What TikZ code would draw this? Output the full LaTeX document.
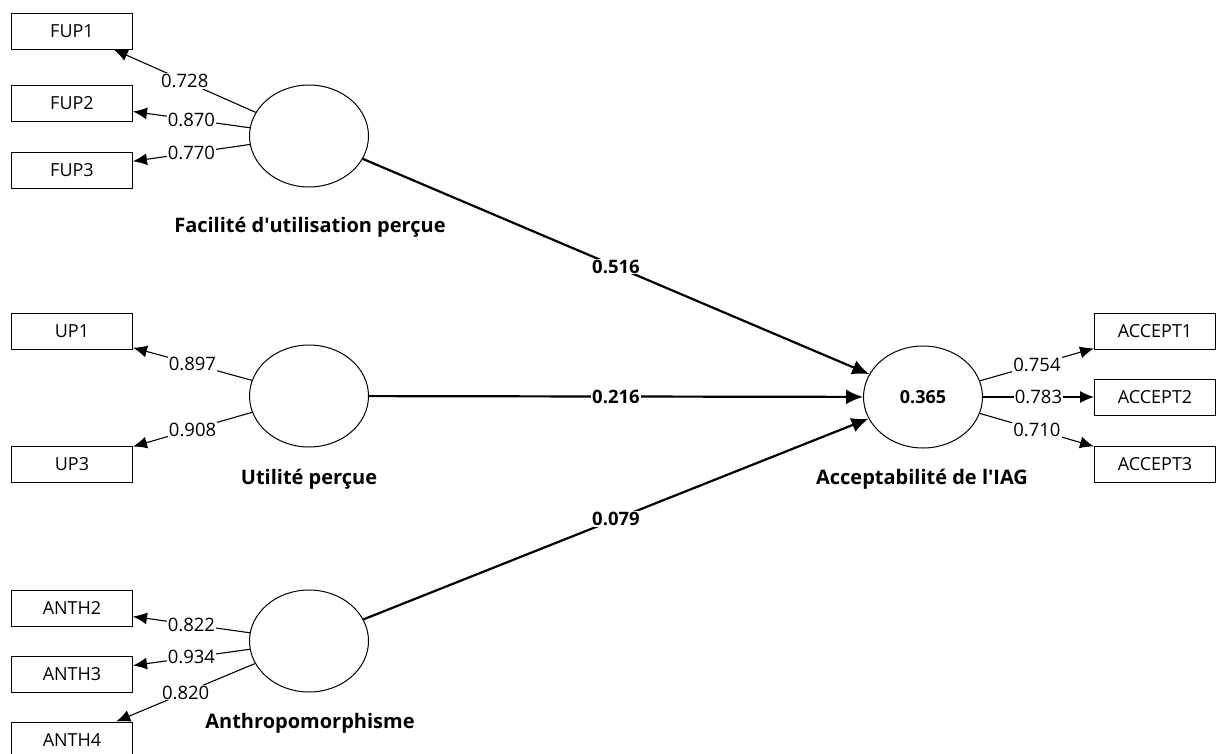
\documentclass[tikz,border=0pt]{standalone}
\usepackage{fontspec}
\setmainfont{Open Sans}
\usetikzlibrary{shapes.geometric, arrows.meta, positioning}

\begin{document}
\begin{tikzpicture}[x=1pt, y=-1pt,
  ind/.style={rectangle, draw, line width=1pt, minimum width=121pt,
    minimum height=36pt, inner sep=0pt, font=\fontsize{18}{21}\selectfont},
  lat/.style={ellipse, draw, line width=1pt, minimum width=119pt,
    minimum height=102pt, inner sep=0pt,
    font=\fontsize{18}{21}\selectfont\bfseries},
  nom/.style={font=\fontsize{20}{24}\selectfont\bfseries},
  load/.style={line width=1.1pt, -{Latex[length=14pt,width=12pt]}},
  struct/.style={line width=2.2pt, -{Latex[length=17pt,width=15pt]}},
  val/.style={fill=white, inner sep=1pt, font=\fontsize{18.5}{21}\selectfont},
  coef/.style={fill=white, inner sep=1pt,
    font=\fontsize{18.5}{21}\selectfont\bfseries},
]
\useasboundingbox (0,0) rectangle (1216,753);
% variables latentes
\node[lat] (fup)  at (309,136) {};
\node[lat] (up)   at (309,396) {};
\node[lat] (anth) at (309,641) {};
\node[lat] (acc)  at (923,397) {0.365};
\node[nom] (fupNom)  at (310,227) {Facilité d\textquotesingle utilisation perçue};
\node[nom] (upNom)   at (309,479) {Utilité perçue};
\node[nom] (anthNom) at (310,723) {Anthropomorphisme};
\node[nom] (accNom)  at (922,479) {Acceptabilité de l\textquotesingle IAG};
% indicateurs
\node[ind] (fup1)  at (72,31)  {FUP1};
\node[ind] (fup2)  at (72,103) {FUP2};
\node[ind] (fup3)  at (72,170) {FUP3};
\node[ind] (up1)   at (72,331) {UP1};
\node[ind] (up3)   at (72,464) {UP3};
\node[ind] (anth2) at (72,608) {ANTH2};
\node[ind] (anth3) at (72,674) {ANTH3};
\node[ind] (anth4) at (72,740) {ANTH4};
\node[ind] (acc1)  at (1155,331) {ACCEPT1};
\node[ind] (acc2)  at (1155,397) {ACCEPT2};
\node[ind] (acc3)  at (1155,464) {ACCEPT3};
% poids externes
\draw[load] (fup)  -- node[val] {0.728} (fup1);
\draw[load] (fup)  -- node[val] {0.870} (fup2);
\draw[load] (fup)  -- node[val] {0.770} (fup3);
\draw[load] (up)   -- node[val] {0.897} (up1);
\draw[load] (up)   -- node[val] {0.908} (up3);
\draw[load] (anth) -- node[val] {0.822} (anth2);
\draw[load] (anth) -- node[val] {0.934} (anth3);
\draw[load] (anth) -- node[val] {0.820} (anth4);
\draw[load] (acc)  -- node[val] {0.754} (acc1);
\draw[load] (acc)  -- node[val] {0.783} (acc2);
\draw[load] (acc)  -- node[val] {0.710} (acc3);
% modele structurel
\draw[struct] (fup)  -- node[coef] {0.516} (acc);
\draw[struct] (up)   -- node[coef] {0.216} (acc);
\draw[struct] (anth) -- node[coef] {0.079} (acc);
\end{tikzpicture}
\end{document}
